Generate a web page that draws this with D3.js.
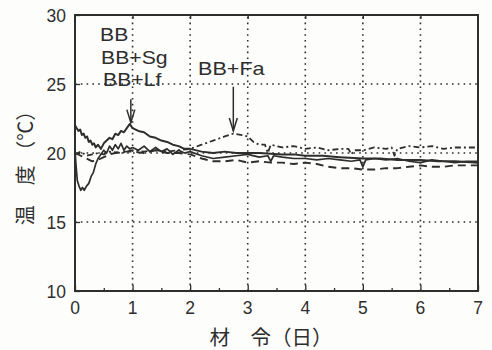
<!DOCTYPE html>
<html><head><meta charset="utf-8">
<script src="https://cdn.jsdelivr.net/npm/d3@7"></script>
<style>
html,body{margin:0;padding:0;background:#fdfdfb;}
svg{display:block;font-family:"Liberation Sans",Arial,sans-serif;}
</style></head>
<body><svg id="c" width="492" height="350"></svg>
<script>
// ---- data ----
const xTicks = [0,1,2,3,4,5,6,7];
const yTicks = [10,15,20,25,30];
const seriesNames = ["BB","BB+Sg","BB+Lf","BB+Fa"];

const bbDays = [0,0.02,0.04,0.07,0.1,0.13,0.16,0.2,0.24,0.28,0.32,0.36,0.4,0.45,0.5,0.55,0.6,0.65,0.7,0.75,0.8,0.85,0.9,0.95,1.0,1.1,1.2,1.3,1.4,1.5,1.6,1.7,1.8,1.9,2.0,2.2,2.4,2.6,2.8,3.0,3.2,3.35,3.4,3.45,3.6,3.8,4.0,4.2,4.4,4.6,4.8,4.95,5.0,5.05,5.2,5.4,5.6,5.8,6.0,6.2,6.4,6.6,6.8,7.0];
const bbTemp = [20.2,19.0,18.0,17.6,17.3,17.5,17.3,17.6,17.8,18.3,18.6,19.2,19.6,19.9,20.2,20.0,20.5,20.2,20.6,20.3,20.7,20.2,20.5,20.3,20.4,20.2,20.5,20.1,20.4,20.1,20.3,19.9,20.2,20.0,20.1,19.8,19.6,19.7,19.8,19.9,19.7,19.8,19.4,19.8,19.7,19.6,19.6,19.5,19.6,19.5,19.4,19.5,19.0,19.5,19.6,19.5,19.6,19.4,19.3,19.5,19.4,19.3,19.4,19.4];

const sgDays = [0,0.1,0.2,0.3,0.4,0.5,0.6,0.7,0.8,1.0,1.2,1.4,1.6,1.8,2.0,2.2,2.4,2.6,2.8,3.0,3.2,3.4,3.6,3.8,4.0,4.2,4.4,4.6,4.8,5.0,5.2,5.4,5.6,5.8,6.0,6.2,6.4,6.6,6.8,7.0];
const sgTemp = [20.0,19.8,19.6,19.4,19.5,19.7,19.9,20.0,20.1,20.1,20.0,20.2,20.0,20.0,19.9,19.6,19.4,19.4,19.5,19.3,19.4,19.3,19.3,19.2,19.3,19.2,19.0,18.9,18.9,18.8,18.8,18.9,18.9,19.0,19.1,19.0,19.0,19.1,19.1,19.1];

const lfDays = [0,0.03,0.06,0.09,0.12,0.15,0.18,0.21,0.24,0.27,0.3,0.33,0.36,0.4,0.45,0.5,0.55,0.6,0.65,0.7,0.75,0.8,0.85,0.9,0.95,1.0,1.1,1.2,1.3,1.4,1.5,1.6,1.7,1.8,1.9,2.0,2.2,2.4,2.6,2.8,3.0,3.2,3.4,3.6,3.8,4.0,4.3,4.6,5.0,5.3,5.6,6.0,6.3,6.6,7.0];
const lfTemp = [22.0,21.8,21.6,21.7,21.3,21.4,21.1,21.2,20.8,20.9,20.6,20.7,20.4,20.6,20.3,20.7,20.9,21.1,21.0,21.4,21.3,21.6,21.5,21.8,22.1,21.8,21.6,21.5,21.2,21.1,20.9,20.8,20.6,20.5,20.3,20.3,20.1,20.0,20.1,20.0,20.0,20.0,19.95,19.9,19.9,19.8,19.8,19.7,19.6,19.6,19.5,19.5,19.4,19.4,19.3];

const faDays = [0,0.1,0.2,0.3,0.4,0.5,0.6,0.8,1.0,1.2,1.4,1.6,1.8,2.0,2.2,2.4,2.6,2.75,2.9,3.0,3.1,3.2,3.3,3.35,3.4,3.6,3.8,4.0,4.2,4.4,4.6,4.75,4.8,4.85,5.0,5.2,5.4,5.5,5.55,5.6,5.8,6.0,6.2,6.4,6.6,6.8,7.0];
const faTemp = [19.9,20.1,19.8,19.9,20.0,19.9,20.1,20.0,20.2,20.1,20.2,20.1,20.2,20.3,20.6,20.9,21.2,21.4,21.3,21.2,20.8,20.6,20.6,20.0,20.6,20.4,20.5,20.3,20.4,20.2,20.3,20.3,19.9,20.2,20.2,20.4,20.3,20.4,19.8,20.3,20.5,20.4,20.5,20.3,20.4,20.4,20.4];

const labelLines = ["BB","BB+Sg","BB+Lf"];
const faLabel = "BB+Fa";
const arrowDays = [0.97, 2.75];
const arrowFrom = [23.9, 24.8];
const arrowTo = [22.2, 21.6];
const xTitle = "材\u3000令（日）";
const yTitle = "温\u3000度 （℃）";

// ---- chart ----
const svg = d3.select("#c");
const W = 492, H = 350;
const m = {l:75, r:14, t:15, b:59};
const x = d3.scaleLinear().domain([0,7]).range([m.l, W - m.r]);
const y = d3.scaleLinear().domain([10,30]).range([H - m.b, m.t]);
const ink = "#2e2e2e";

// grid
const g = svg.append("g");
g.selectAll(".gx").data(xTicks.slice(1,-1)).join("line")
  .attr("x1", d=>x(d)).attr("x2", d=>x(d)).attr("y1", y(10)).attr("y2", y(30))
  .attr("stroke", ink).attr("stroke-width", 1.6).attr("stroke-dasharray","1.6,4.2");
g.selectAll(".gy").data(yTicks.slice(1,-1)).join("line")
  .attr("x1", x(0)).attr("x2", x(7)).attr("y1", d=>y(d)).attr("y2", d=>y(d))
  .attr("stroke", ink).attr("stroke-width", 1.6).attr("stroke-dasharray","1.6,4.2");

// axes with inward ticks
const xAxis = d3.axisBottom(x).tickValues(d3.range(0,7.01,0.5)).tickSize(-5).tickFormat("");
const gx = svg.append("g").attr("transform",`translate(0,${y(10)})`).call(xAxis);
gx.selectAll(".tick line").attr("stroke", ink).attr("stroke-width",1.3)
  .attr("y2", d => Number.isInteger(d) ? -6 : -3);
gx.select(".domain").remove();
const xAxisTop = d3.axisTop(x).tickValues(d3.range(1,7,1)).tickSize(-4).tickFormat("");
const gxt = svg.append("g").attr("transform",`translate(0,${y(30)})`).call(xAxisTop);
gxt.selectAll(".tick line").attr("stroke", ink).attr("stroke-width",1.3);
gxt.select(".domain").remove();
const yAxis = d3.axisLeft(y).tickValues(yTicks).tickSize(-5).tickPadding(9);
const gy = svg.append("g").attr("transform",`translate(${x(0)},0)`).call(yAxis);
gy.selectAll(".tick line").attr("stroke", ink).attr("stroke-width",1.3);
gy.select(".domain").remove();
gy.selectAll("text").attr("font-size",17.5).attr("fill",ink).attr("dy","0.35em");

svg.append("g").selectAll("text").data(xTicks).join("text")
  .attr("x", d=>x(d)).attr("y", y(10)+23).attr("text-anchor","middle")
  .attr("font-size",17.5).attr("fill",ink).text(d=>d);

// frame
svg.append("rect").attr("x",x(0)).attr("y",y(30)).attr("width",x(7)-x(0)).attr("height",y(10)-y(30))
  .attr("fill","none").attr("stroke",ink).attr("stroke-width",2);

// lines
const line = d3.line().x(d=>x(d[0])).y(d=>y(d[1]));
const zipS = (a,b)=>a.map((d,i)=>[d,b[i]]);
const series = [
  {name:seriesNames[0], pts:zipS(bbDays,bbTemp), dash:null, w:1.7},
  {name:seriesNames[1], pts:zipS(sgDays,sgTemp), dash:"8,5", w:1.9},
  {name:seriesNames[2], pts:zipS(lfDays,lfTemp), dash:null, w:2.0},
  {name:seriesNames[3], pts:zipS(faDays,faTemp), dash:"6,3,2,3", w:1.8}
];
svg.append("g").selectAll("path").data(series).join("path")
  .attr("d", d=>line(d.pts)).attr("fill","none").attr("stroke",ink)
  .attr("stroke-width", d=>d.w).attr("stroke-dasharray", d=>d.dash)
  .attr("stroke-linejoin","round");

// annotations
const ann = svg.append("g").attr("fill",ink).attr("font-size",18);
const lx = [100,101,103], ly = [41,63.5,86];
ann.selectAll("text.l").data(labelLines).join("text")
  .attr("transform",(d,i)=>`translate(${lx[i]},${ly[i]}) scale(1.18,1)`).text(d=>d);
ann.append("text").attr("transform","translate(198,75) scale(1.2,1)").text(faLabel);
arrowDays.forEach((d,i)=>{
  const ax = x(d), y1 = y(arrowFrom[i]), y2 = y(arrowTo[i]);
  svg.append("line").attr("x1",ax).attr("x2",ax).attr("y1",y1).attr("y2",y2)
    .attr("stroke",ink).attr("stroke-width",1.5);
  svg.append("path").attr("d",`M${ax-4},${y2-13}L${ax},${y2}L${ax+4},${y2-13}`)
    .attr("fill","none").attr("stroke",ink).attr("stroke-width",1.5);
});

// titles
svg.append("text").attr("x",271).attr("y",345).attr("text-anchor","middle")
  .attr("font-family","'Noto Sans CJK JP',sans-serif").attr("font-size",20.5).attr("fill",ink).text(xTitle);
svg.append("text").attr("transform",`translate(33,${y(20)+10}) rotate(-90)`).attr("text-anchor","middle")
  .attr("font-family","'Noto Sans CJK JP',sans-serif").attr("font-size",20).attr("fill",ink).text(yTitle);
</script></body></html>
